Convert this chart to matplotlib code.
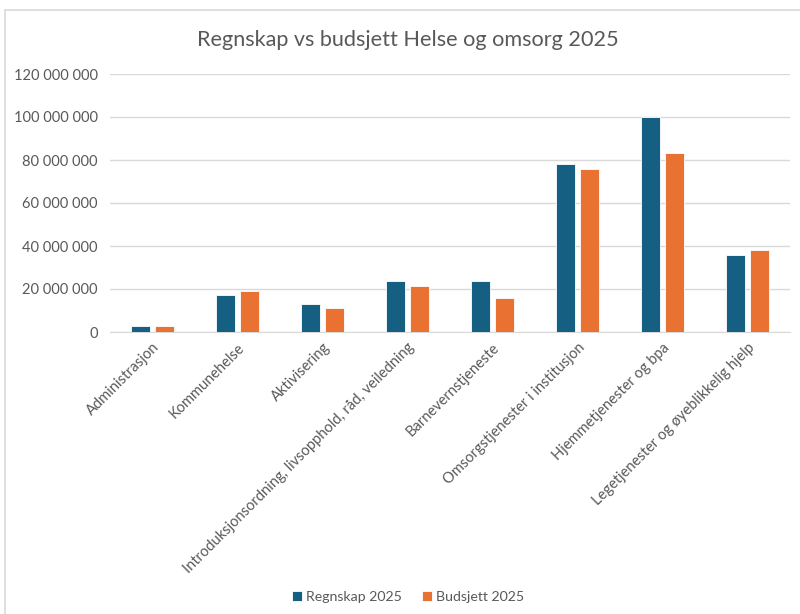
import matplotlib
matplotlib.use("Agg")
import matplotlib.pyplot as plt
from matplotlib.patches import Rectangle
from matplotlib.ticker import FuncFormatter
import numpy as np

plt.rcParams['font.family'] = ['Lato', 'DejaVu Sans']

categories = ["Administrasjon", "Kommunehelse", "Aktivisering",
              "Introduksjonsordning, livsopphold, råd, veiledning",
              "Barnevernstjeneste", "Omsorgstjenester i institusjon",
              "Hjemmetjenester og bpa", "Legetjenester og øyeblikkelig hjelp"]
regnskap = [2.8e6, 17.4e6, 12.8e6, 23.6e6, 23.6e6, 78.2e6, 100.2e6, 35.9e6]
budsjett = [2.8e6, 19.0e6, 11.2e6, 21.2e6, 15.9e6, 75.7e6, 83.2e6, 38.1e6]
series_names = ["Regnskap 2025", "Budsjett 2025"]
title = "Regnskap vs budsjett Helse og omsorg 2025"

blue = "#156082"
orange = "#E97132"
text_gray = "#595959"
grid_gray = "#D9D9D9"

fig = plt.figure(figsize=(8, 6.14), dpi=100)
ax = fig.add_axes([110/800, 1 - 332/614, 680/800, (332 - 74)/614])

x = np.arange(len(categories))
w = 0.225
off = 0.145
ax.bar(x - off, regnskap, w, color=blue, edgecolor="white", linewidth=0.6, label=series_names[0], zorder=3)
ax.bar(x + off, budsjett, w, color=orange, edgecolor="white", linewidth=0.6, label=series_names[1], zorder=3)

ax.set_xlim(-0.5, len(categories) - 0.5)
ax.set_ylim(0, 120e6)
ax.set_yticks(np.arange(0, 120e6 + 1, 20e6))
ax.yaxis.set_major_formatter(FuncFormatter(lambda v, p: f"{int(v):,}".replace(",", " ")))
ax.grid(axis="y", color=grid_gray, linewidth=1, zorder=0)
for s in ["top", "right", "left"]:
    ax.spines[s].set_visible(False)
ax.spines["bottom"].set_color(grid_gray)
ax.tick_params(axis="both", length=0, colors=text_gray, labelsize=10.5)
ax.tick_params(axis="y", pad=9)
ax.set_xticks(x)
ax.set_xticklabels(categories, rotation=45, ha="right", rotation_mode="anchor")
ax.tick_params(axis="x", pad=6)

fig.text(408/800, 1 - 40/614, title, ha="center", va="center", fontsize=15.6, color=text_gray)

leg = fig.legend(loc="center", bbox_to_anchor=(0.51, 1 - 597/614), ncol=2, frameon=False,
                 fontsize=10.2, handlelength=0.7, handleheight=0.7, handletextpad=0.3,
                 columnspacing=1.4)
for t in leg.get_texts():
    t.set_color(text_gray)

fig.patches.append(Rectangle((5/800, -0.05), 1.0, 1 - 10/614 + 0.05, transform=fig.transFigure,
                             fill=False, edgecolor="#D9D9D9", linewidth=1.2, zorder=0))

fig.savefig("out.png", dpi=100)
